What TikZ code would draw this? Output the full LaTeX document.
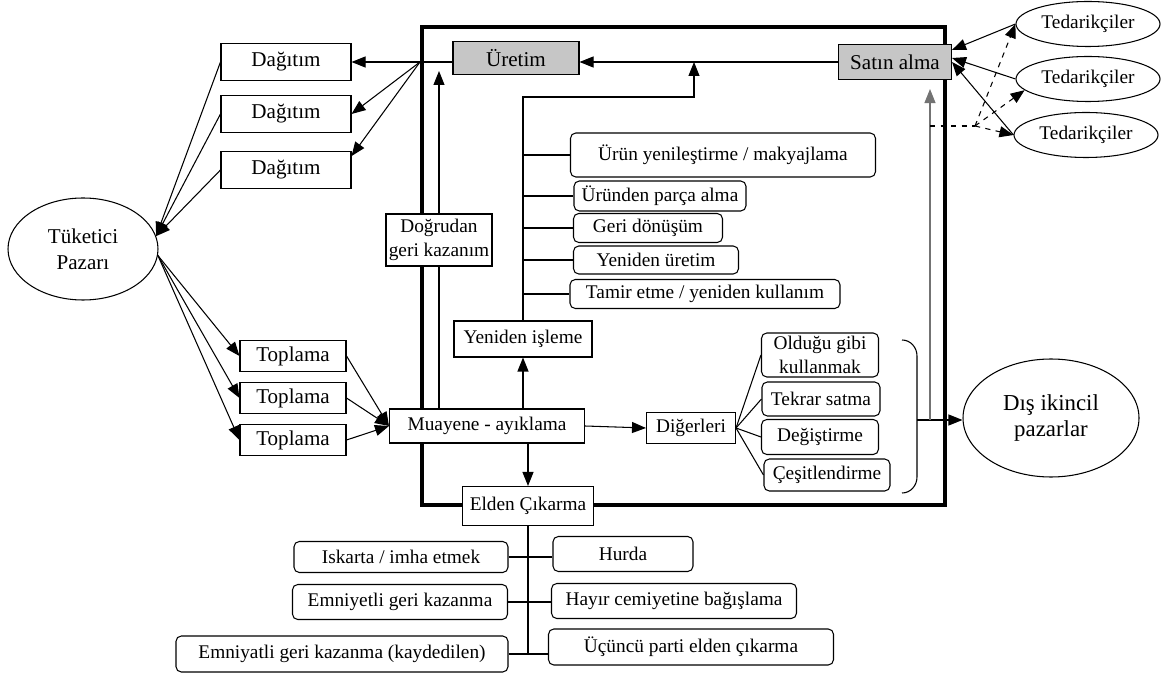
\documentclass[tikz,border=0pt]{standalone}
\usepackage{fontspec}
\setmainfont{Liberation Serif}
\usetikzlibrary{arrows.meta,shapes.geometric,positioning,calc}

\begin{document}
\begin{tikzpicture}[x=0.02cm, y=-0.02cm, font=\fontsize{11}{13.5}\selectfont,
    line width=0.6pt, >={Triangle[length=2.8mm,width=2.2mm]}]
    \tikzset{sqbox/.style={draw, fill=white, inner sep=1pt, align=center}}
    \tikzset{rbox/.style={sqbox, rounded corners=3pt}}
    \tikzset{oval/.style={ellipse, draw, fill=white, inner sep=0pt, align=center}}
    \tikzset{wh/.style 2 args={minimum width=#1*0.02cm, minimum height=#2*0.02cm}}
    \tikzset{big/.style={font=\fontsize{12}{15}\selectfont}}

    \useasboundingbox (0,0) rectangle (1170,675);

    % MAIN FRAME
    \draw[line width=2.3pt] (422,27) rectangle (945,505);

    % PRODUCTION AND PURCHASING
    \node[sqbox, big, fill=gray!45, wh={126}{33}] (uretim) at (516,58) {Üretim};
    \node[sqbox, big, fill=gray!45, wh={113}{35}] (satin) at (895,62) {Satın alma};

    % DISTRIBUTION AND MARKET
    \foreach \i/\y in {1/62, 2/114, 3/170}
        \node[sqbox, big, wh={130}{37}] (dag\i) at (286,\y) {Dağıtım};
    \node[oval, big, wh={150}{102}] (tuk) at (83,249) {Tüketici\\Pazarı};

    % COLLECTION
    \foreach \i/\y in {1/356, 2/398, 3/440}
        \node[sqbox, big, wh={106}{31}] (top\i) at (293,\y) {Toplama};

    % INNER PROCESS BOXES
    \node[sqbox, wh={195}{34}] (muay) at (487,426) {Muayene - ayıklama};
    \node[sqbox, wh={106}{52}] (dogru) at (439,240) {Doğrudan\\geri kazanım};
    \node[sqbox, wh={138}{36}] (yeni) at (523,339) {Yeniden işleme};
    \node[sqbox, wh={131}{39}] (elden) at (528,506) {Elden Çıkarma};
    \node[sqbox, wh={89}{31}] (diger) at (691,428) {Diğerleri};

    % REPROCESSING OPTIONS
    \foreach \n/\x/\y/\w/\h/\t in {1/723/155/305/44/{Ürün yenileştirme / makyajlama},
        2/660/196/172/30/{Üründen parça alma}, 3/648/228/149/29/{Geri dönüşüm},
        4/656/260/165/28/{Yeniden üretim}, 5/705/294/270/29/{Tamir etme / yeniden kullanım}}
        \node[rbox, wh={\w}{\h}] (ref\n) at (\x,\y) {\t};

    % OTHER OPTIONS
    \foreach \n/\x/\y/\w/\h/\t in {1/820/355/117/44/{Olduğu gibi\\kullanmak},
        2/821/399/118/34/{Tekrar satma}, 3/820/437/117/35/{Değiştirme},
        4/827/475/126/32/{Çeşitlendirme}}
        \node[rbox, wh={\w}{\h}] (oth\n) at (\x,\y) {\t};

    % SUPPLIERS AND SECONDARY MARKET
    \foreach \i/\x/\y in {1/1088/24, 2/1088/79, 3/1086/135}
        \node[oval, wh={144}{45}] (ted\i) at (\x,\y) {Tedarikçiler};
    \node[oval, font=\fontsize{13}{15}\selectfont, wh={176}{118}] (dis) at (1051,418) {Dış ikincil\\pazarlar};

    % DISPOSAL OPTIONS
    \foreach \n/\x/\y/\w/\h/\t in {1/401/557/214/31/{Iskarta / imha etmek},
        2/400/602/215/35/{Emniyetli geri kazanma},
        3/342/654/332/36/{Emniyatli geri kazanma (kaydedilen)}}
        \node[rbox, wh={\w}{\h}] (dl\n) at (\x,\y) {\t};
    \foreach \n/\x/\y/\w/\h/\t in {1/623/554/140/35/{Hurda},
        2/674/601/245/35/{Hayır cemiyetine bağışlama},
        3/691/647/285/36/{Üçüncü parti elden çıkarma}}
        \node[rbox, wh={\w}{\h}] (dr\n) at (\x,\y) {\t};

    % FORWARD FLOW
    \coordinate (hub) at (420,62);
    \draw[->] (satin.west) -- (satin.west -| uretim.east);
    \draw (uretim.west |- hub) -- (hub);
    \foreach \i/\a in {1/east, 2/east, 3/12}
        \draw[->] (hub) -- (dag\i.\a);
    \foreach \i in {1,2,3}
        \draw[->] (dag\i.west) -- (tuk.10);

    % REVERSE FLOW
    \foreach \i in {1,2,3} {
        \draw[->] (tuk.-5) -- (top\i.west);
        \draw[->] (top\i.east) -- (muay.west);
    }
    \draw[->] (yeni.south |- muay.north) -- (yeni.south);
    \draw[->] (elden.north |- muay.south) -- (elden.north);
    \draw[->] (muay.east) -- (diger.west);
    \draw (dogru.south |- muay.north) -- (dogru.south);
    \draw[->, shorten >=0.18cm] (dogru.north) -- (dogru.north |- hub);

    \coordinate (upr) at (694,97);
    \draw[->] (yeni.north) |- (upr) -- (upr |- satin.west);
    \foreach \n in {1,...,5}
        \draw (yeni.north |- ref\n.west) -- (ref\n.west);
    \foreach \n in {1,...,4}
        \draw (diger.east) -- (oth\n.west);

    % BRACKET TO SECONDARY MARKET
    \draw (902,340) to[out=0, in=90] (917,356) -- (917,477) to[out=-90, in=0] (902,493);
    \coordinate (brk) at (917,420);
    \draw[->] (brk) -- (brk -| dis.west);
    \coordinate (gv) at (930,420);
    \draw[->, black!55, shorten >=0.18cm] (gv) -- (gv |- satin.south);

    % SUPPLIER LINKS
    \coordinate (dsp) at (975,126);
    \draw[dashed] (gv |- dsp) -- (dsp);
    \foreach \i/\a in {1/west, 2/190, 3/west}
        \draw[->, dashed] (dsp) -- (ted\i.\a);
    \foreach \i/\a in {1/12, 2/4, 3/east}
        \draw[->] (ted\i.west) -- (satin.\a);

    % DISPOSAL BRANCHES
    \coordinate (trunk) at (527,655);
    \draw (elden.south) -- (elden.south |- trunk);
    \foreach \n in {1,2,3}
        \draw (dl\n.east) -- (dl\n.east -| dr\n.west);
\end{tikzpicture}
\end{document}
